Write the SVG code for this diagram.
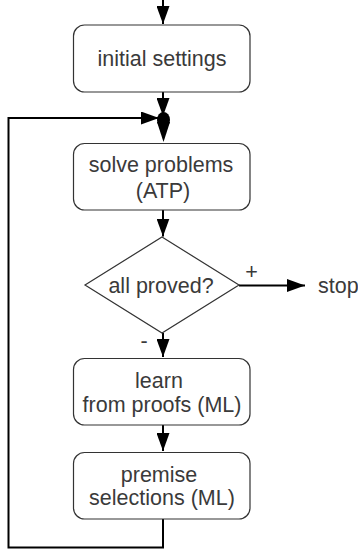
<svg xmlns="http://www.w3.org/2000/svg" width="358" height="550" viewBox="0 0 358 550">
<style>
.box{fill:#fff;stroke:#333;stroke-width:1.2}
.t{font-family:"Liberation Sans",Arial,sans-serif;font-size:21.5px;fill:#3a3a3a;text-anchor:middle}
.c{fill:none;stroke:#000;stroke-width:2}
</style>
<defs>
<marker id="ah" markerUnits="userSpaceOnUse" markerWidth="18" markerHeight="13" refX="18" refY="6.5" orient="auto" viewBox="0 0 18 13">
<path d="M0,0 L18,6.5 L0,13 z" fill="#000"/>
</marker>
</defs>
<rect width="358" height="550" fill="#fff"/>
<g id="connectors">
<line class="c" x1="163" y1="0" x2="163" y2="24" marker-end="url(#ah)"/>
<line class="c" x1="163" y1="92" x2="163" y2="116" marker-end="url(#ah)"/>
<polyline class="c" points="163,519 163,547.5 8.5,547.5 8.5,118 159,118" marker-end="url(#ah)"/>
<ellipse cx="163.5" cy="120" rx="6.5" ry="8" fill="#000"/>
<path d="M157,122 L170,122 L163.5,142 z" fill="#000"/>
<line class="c" x1="163" y1="210" x2="163" y2="236.5" marker-end="url(#ah)"/>
<line class="c" x1="239" y1="285.5" x2="305" y2="285.5" marker-end="url(#ah)"/>
<line class="c" x1="163" y1="333" x2="163" y2="357" marker-end="url(#ah)"/>
<line class="c" x1="163" y1="425" x2="163" y2="451" marker-end="url(#ah)"/>
<text class="t" x="251.5" y="279">+</text>
<text class="t" x="144" y="347.5">-</text>
</g>
<g id="initial">
<rect class="box" x="73.5" y="25" width="176.5" height="67" rx="11"/>
<text class="t" x="162" y="66">initial settings</text>
</g>
<g id="solve">
<rect class="box" x="73.5" y="143.5" width="176.5" height="66.5" rx="11"/>
<text class="t" x="161" y="172">solve problems</text>
<text class="t" x="163" y="198">(ATP)</text>
</g>
<g id="decision">
<polygon class="box" points="162,237 239,285 162,333 85,285"/>
<text class="t" x="161" y="293">all proved?</text>
</g>
<g id="stop">
<text class="t" x="318" y="293" style="text-anchor:start">stop</text>
</g>
<g id="learn">
<rect class="box" x="73.5" y="358.5" width="176.5" height="66.5" rx="11"/>
<text class="t" x="159" y="388">learn</text>
<text class="t" x="162" y="411.5">from proofs (ML)</text>
</g>
<g id="premise">
<rect class="box" x="73.5" y="452.5" width="176.5" height="66.5" rx="11"/>
<text class="t" x="159" y="481.5">premise</text>
<text class="t" x="162" y="505">selections (ML)</text>
</g>
</svg>
